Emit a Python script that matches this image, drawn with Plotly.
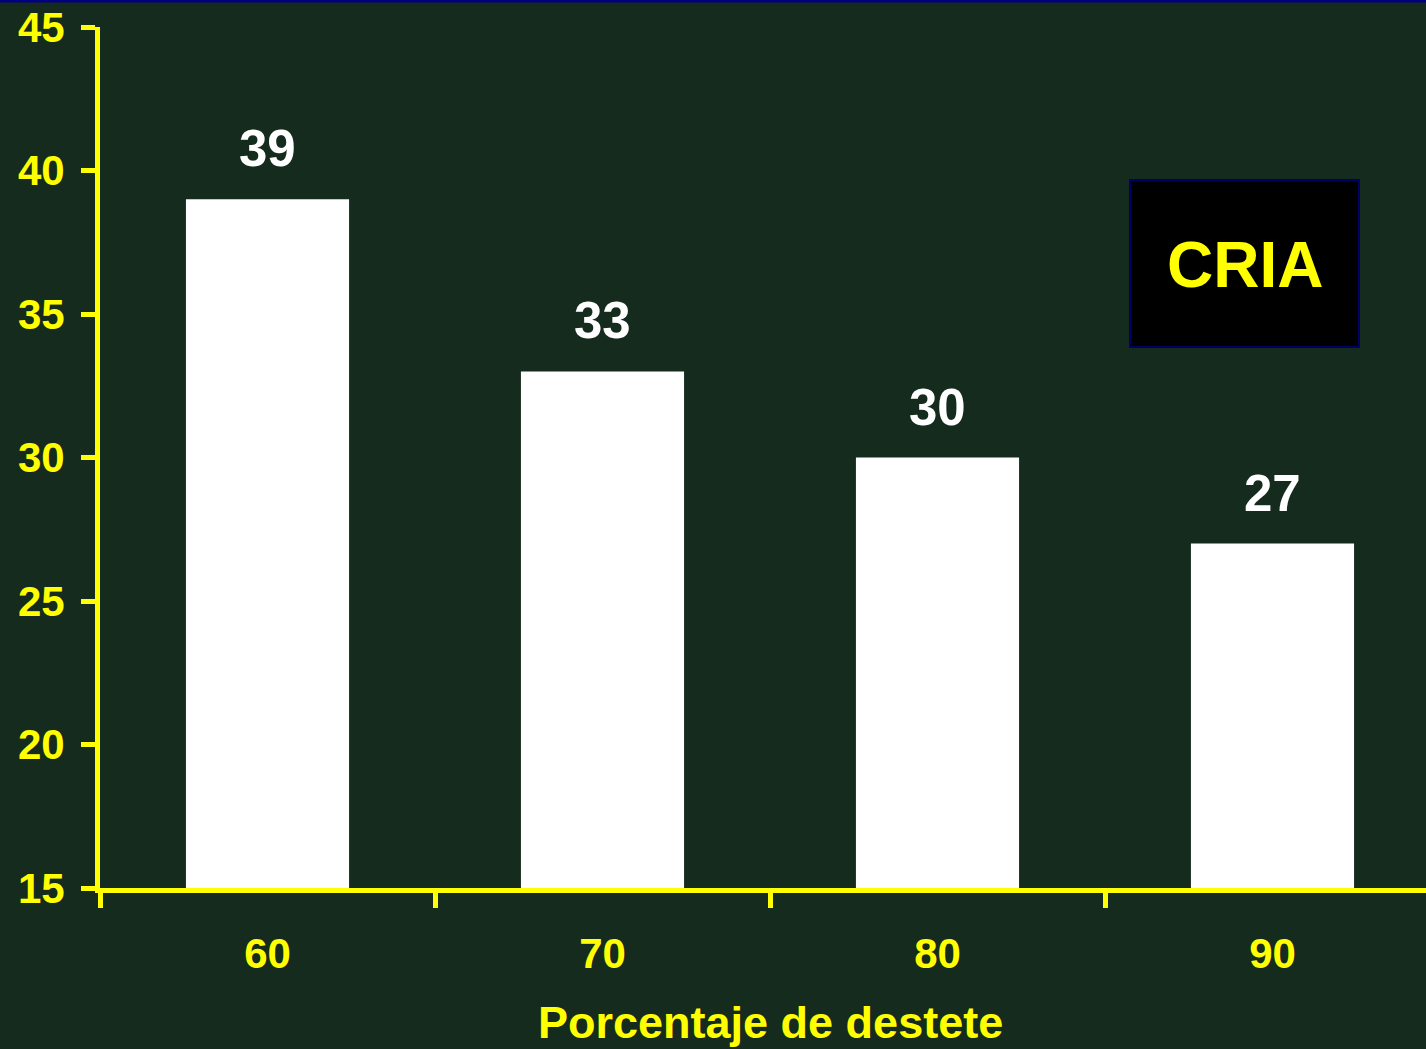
import plotly.graph_objects as go

categories = ["60", "70", "80", "90"]
values = [39, 33, 30, 27]
y_ticks = [15, 20, 25, 30, 35, 40, 45]
x_title = "Porcentaje de destete"
box_label = "CRIA"

BG = "#152B1E"
YEL = "#FFFF00"
FONT = "Liberation Sans, Arial, sans-serif"

W, H = 1426, 1049
L, R, T, B = 100, 0, 27, 161
PW, PH = W - L - R, H - T - B

fig = go.Figure()
fig.add_trace(go.Bar(
    x=categories, y=values,
    marker=dict(color="#FFFFFF", line=dict(width=0)),
    hoverinfo="skip",
))

# value labels above bars (category axis: positions are category indices)
for i, v in enumerate(values):
    fig.add_annotation(x=i, y=v, xref="x", yref="y", text=str(v),
                       showarrow=False, yanchor="bottom", yshift=20,
                       font=dict(family=FONT, size=51, color="#FFFFFF", weight="bold"))

# x axis title
fig.add_annotation(x=(len(categories) - 1) / 2, xref="x", y=(H - B - 1022) / PH, yref="paper",
                   text=x_title, showarrow=False, yanchor="middle",
                   font=dict(family=FONT, size=45, color=YEL, weight="bold"))

# CRIA box
fig.add_shape(type="rect", xref="paper", yref="paper",
              x0=(1130 - L) / PW, x1=(1359 - L) / PW,
              y0=(H - B - 347) / PH, y1=(H - B - 180) / PH,
              fillcolor="#000000", line=dict(color="#000066", width=2), layer="above")
fig.add_annotation(x=(1245 - L) / PW, xref="paper",
                   y=(H - B - 265) / PH, yref="paper",
                   text=box_label, showarrow=False, yanchor="middle", xanchor="center",
                   font=dict(family=FONT, size=64, color=YEL, weight="bold"))

# top navy edge line
fig.add_shape(type="line", xref="paper", yref="paper", x0=-0.1, x1=1.1,
              y0=(H - B - 1) / PH, y1=(H - B - 1) / PH,
              line=dict(color="#000080", width=3))

fig.update_layout(
    width=W, height=H,
    margin=dict(l=L, r=R, t=T, b=B, pad=0),
    paper_bgcolor=BG, plot_bgcolor=BG,
    bargap=0.513,
    showlegend=False,
    font=dict(family=FONT, color=YEL),
)
fig.update_xaxes(
    type="category", range=[-0.5, -0.5 + PW / 335],
    showline=True, linecolor=YEL, linewidth=5,
    ticks="outside", tickson="boundaries", ticklen=15, tickwidth=5, tickcolor=YEL,
    tickfont=dict(family=FONT, size=42, color=YEL, weight="bold"),
    ticklabelstandoff=25,
    showgrid=False, zeroline=False, fixedrange=True,
)
fig.update_yaxes(
    range=[15, 45], tickvals=y_ticks,
    showline=True, linecolor=YEL, linewidth=5,
    ticks="outside", ticklen=14, tickwidth=5, tickcolor=YEL,
    tickfont=dict(family=FONT, size=42, color=YEL, weight="bold"),
    ticklabelstandoff=8,
    showgrid=False, zeroline=False, fixedrange=True,
)

fig.write_html(
    "out.html",
    config={"displayModeBar": False},
    post_script="document.body.style.margin='0';document.body.style.background='" + BG + "';",
)
